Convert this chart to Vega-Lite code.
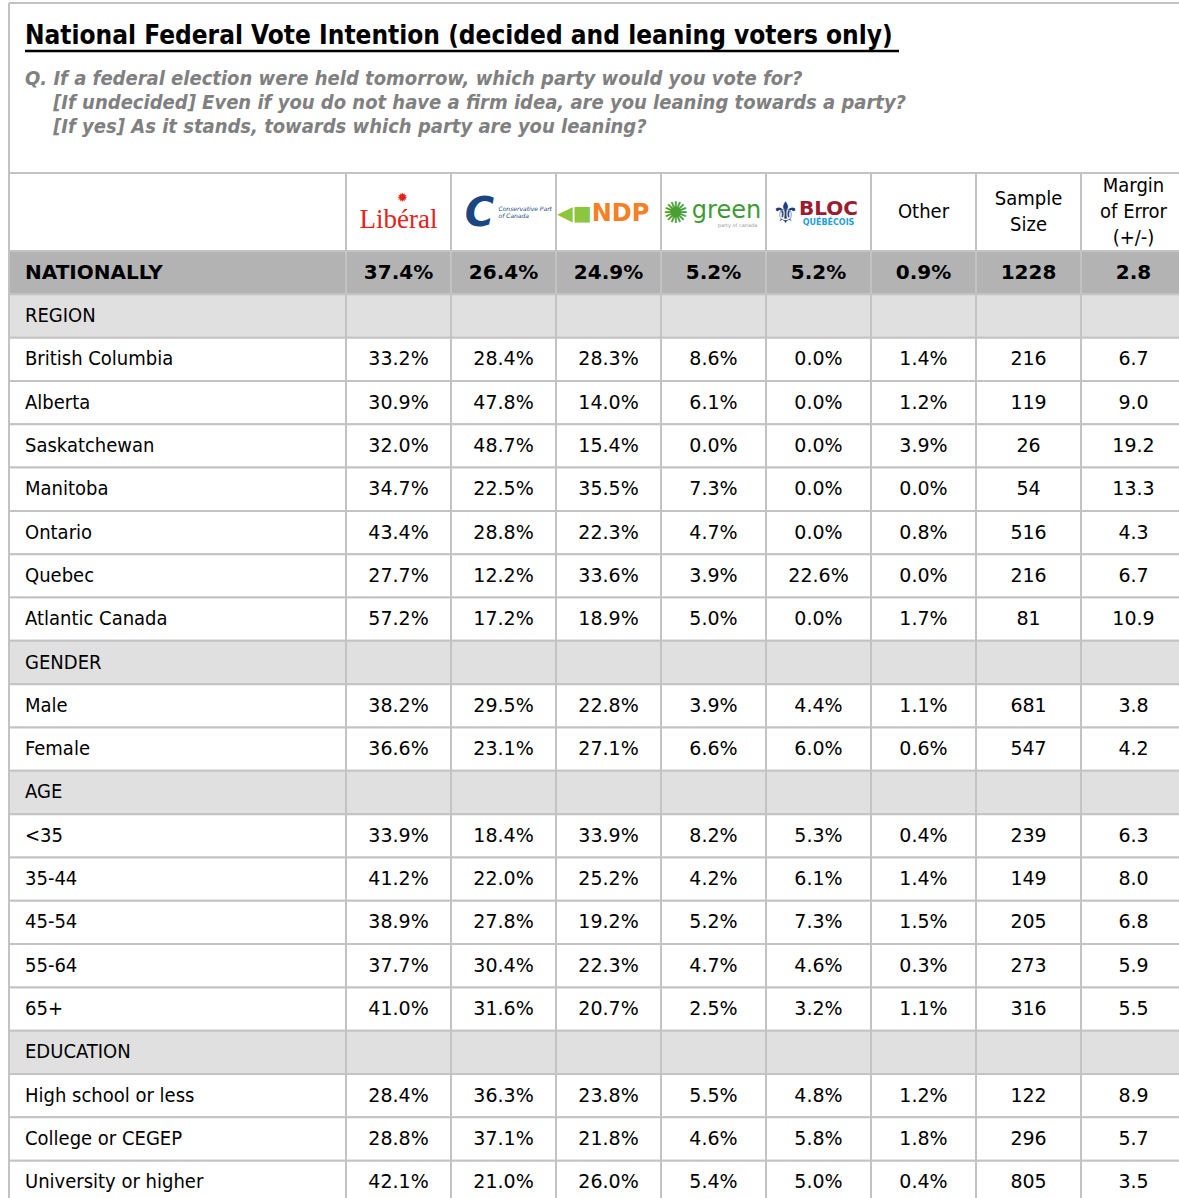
{
  "$schema": "https://vega.github.io/schema/vega-lite/v6.json",
  "background": "white",
  "padding": {"left": 8, "top": 2, "right": 0, "bottom": 0},
  "columns": 2,
  "spacing": 0,
  "bounds": "flush",
  "resolve": {"scale": {"x": "independent", "y": "independent", "fill": "independent"}},
  "config": {
    "view": {"stroke": null},
    "font": "DejaVu Sans Condensed",
    "text": {"font": "DejaVu Sans Condensed", "fontSize": 20, "color": "#000000"}
  },
  "datasets": {
    "table": [
      {"row": "NATIONALLY", "kind": "total", "Liberal": 0.374, "Conservative": 0.264, "NDP": 0.249, "Green": 0.052, "Bloc": 0.052, "Other": 0.009, "Sample": 1228, "MoE": 2.8},
      {"row": "REGION", "kind": "section"},
      {"row": "British Columbia", "kind": "row", "Liberal": 0.332, "Conservative": 0.284, "NDP": 0.283, "Green": 0.086, "Bloc": 0.0, "Other": 0.014, "Sample": 216, "MoE": 6.7},
      {"row": "Alberta", "kind": "row", "Liberal": 0.309, "Conservative": 0.478, "NDP": 0.140, "Green": 0.061, "Bloc": 0.0, "Other": 0.012, "Sample": 119, "MoE": 9.0},
      {"row": "Saskatchewan", "kind": "row", "Liberal": 0.320, "Conservative": 0.487, "NDP": 0.154, "Green": 0.0, "Bloc": 0.0, "Other": 0.039, "Sample": 26, "MoE": 19.2},
      {"row": "Manitoba", "kind": "row", "Liberal": 0.347, "Conservative": 0.225, "NDP": 0.355, "Green": 0.073, "Bloc": 0.0, "Other": 0.0, "Sample": 54, "MoE": 13.3},
      {"row": "Ontario", "kind": "row", "Liberal": 0.434, "Conservative": 0.288, "NDP": 0.223, "Green": 0.047, "Bloc": 0.0, "Other": 0.008, "Sample": 516, "MoE": 4.3},
      {"row": "Quebec", "kind": "row", "Liberal": 0.277, "Conservative": 0.122, "NDP": 0.336, "Green": 0.039, "Bloc": 0.226, "Other": 0.0, "Sample": 216, "MoE": 6.7},
      {"row": "Atlantic Canada", "kind": "row", "Liberal": 0.572, "Conservative": 0.172, "NDP": 0.189, "Green": 0.050, "Bloc": 0.0, "Other": 0.017, "Sample": 81, "MoE": 10.9},
      {"row": "GENDER", "kind": "section"},
      {"row": "Male", "kind": "row", "Liberal": 0.382, "Conservative": 0.295, "NDP": 0.228, "Green": 0.039, "Bloc": 0.044, "Other": 0.011, "Sample": 681, "MoE": 3.8},
      {"row": "Female", "kind": "row", "Liberal": 0.366, "Conservative": 0.231, "NDP": 0.271, "Green": 0.066, "Bloc": 0.060, "Other": 0.006, "Sample": 547, "MoE": 4.2},
      {"row": "AGE", "kind": "section"},
      {"row": "<35", "kind": "row", "Liberal": 0.339, "Conservative": 0.184, "NDP": 0.339, "Green": 0.082, "Bloc": 0.053, "Other": 0.004, "Sample": 239, "MoE": 6.3},
      {"row": "35-44", "kind": "row", "Liberal": 0.412, "Conservative": 0.220, "NDP": 0.252, "Green": 0.042, "Bloc": 0.061, "Other": 0.014, "Sample": 149, "MoE": 8.0},
      {"row": "45-54", "kind": "row", "Liberal": 0.389, "Conservative": 0.278, "NDP": 0.192, "Green": 0.052, "Bloc": 0.073, "Other": 0.015, "Sample": 205, "MoE": 6.8},
      {"row": "55-64", "kind": "row", "Liberal": 0.377, "Conservative": 0.304, "NDP": 0.223, "Green": 0.047, "Bloc": 0.046, "Other": 0.003, "Sample": 273, "MoE": 5.9},
      {"row": "65+", "kind": "row", "Liberal": 0.410, "Conservative": 0.316, "NDP": 0.207, "Green": 0.025, "Bloc": 0.032, "Other": 0.011, "Sample": 316, "MoE": 5.5},
      {"row": "EDUCATION", "kind": "section"},
      {"row": "High school or less", "kind": "row", "Liberal": 0.284, "Conservative": 0.363, "NDP": 0.238, "Green": 0.055, "Bloc": 0.048, "Other": 0.012, "Sample": 122, "MoE": 8.9},
      {"row": "College or CEGEP", "kind": "row", "Liberal": 0.288, "Conservative": 0.371, "NDP": 0.218, "Green": 0.046, "Bloc": 0.058, "Other": 0.018, "Sample": 296, "MoE": 5.7},
      {"row": "University or higher", "kind": "row", "Liberal": 0.421, "Conservative": 0.210, "NDP": 0.260, "Green": 0.054, "Bloc": 0.050, "Other": 0.004, "Sample": 805, "MoE": 3.5}
    ],
    "head": [
      {"col": "Liberal", "head": ""},
      {"col": "Conservative", "head": ""},
      {"col": "NDP", "head": ""},
      {"col": "Green", "head": ""},
      {"col": "Bloc", "head": ""},
      {"col": "Other", "head": "Other"},
      {"col": "Sample", "head": "Sample\nSize"},
      {"col": "MoE", "head": "Margin\nof Error\n(+/-)"}
    ]
  },
  "concat": [
    {
      "width": 337,
      "height": 170,
      "title": {
        "text": "National Federal Vote Intention (decided and leaning voters only)",
        "subtitle": [
          "Q. If a federal election were held tomorrow, which party would you vote for?",
          "\u2800\u2800[If undecided] Even if you do not have a firm idea, are you leaning towards a party?",
          "\u2800\u2800[If yes] As it stands, towards which party are you leaning?"
        ],
        "anchor": "start",
        "frame": "group",
        "orient": "top",
        "offset": -135,
        "dx": 16,
        "font": "DejaVu Sans Condensed",
        "fontSize": 26,
        "fontWeight": "bold",
        "color": "#000000",
        "subtitleFont": "DejaVu Sans Condensed",
        "subtitleFontSize": 20,
        "subtitleFontStyle": "italic",
        "subtitleFontWeight": "bold",
        "subtitleColor": "#808080",
        "subtitleLineHeight": 24,
        "subtitlePadding": 20
      },
      "data": {"values": [{}]},
      "layer": [
        {"mark": {"type": "rule", "color": "#c3c3c3", "strokeWidth": 2}, "encoding": {"x": {"value": 0}, "x2": {"value": 337}, "y": {"value": 0}}},
        {"mark": {"type": "rule", "color": "#c3c3c3", "strokeWidth": 2}, "encoding": {"x": {"value": 0}, "y": {"value": 0}, "y2": {"value": 170}}},
        {"mark": {"type": "rule", "color": "#000000", "strokeWidth": 2.5}, "encoding": {"x": {"value": 16}, "x2": {"value": 890}, "y": {"value": 48}}}
      ]
    },
    {
      "width": 840,
      "height": 170,
      "data": {"values": [{}]},
      "mark": {"type": "rule", "color": "#c3c3c3", "strokeWidth": 2},
      "encoding": {"x": {"value": 0}, "x2": {"value": 840}, "y": {"value": 0}}
    },
    {
      "width": 337,
      "height": 78,
      "data": {"values": [{"cell": "label"}]},
      "mark": {"type": "rect", "fill": "#ffffff", "stroke": "#c3c3c3", "strokeWidth": 2},
      "encoding": {
        "x": {"field": "cell", "type": "nominal", "axis": null, "scale": {"paddingInner": 0, "paddingOuter": 0}},
        "y": {"field": "cell", "type": "nominal", "axis": null, "scale": {"paddingInner": 0, "paddingOuter": 0}}
      }
    },
    {
      "width": 840,
      "height": 78,
      "data": {"name": "head"},
      "encoding": {
        "x": {"field": "col", "type": "nominal", "axis": null, "scale": {"domain": ["Liberal", "Conservative", "NDP", "Green", "Bloc", "Other", "Sample", "MoE"], "paddingInner": 0, "paddingOuter": 0}},
        "y": {"datum": "h", "type": "nominal", "axis": null, "scale": {"paddingInner": 0, "paddingOuter": 0}}
      },
      "layer": [
        {"mark": {"type": "rect", "fill": "#ffffff", "stroke": "#c3c3c3", "strokeWidth": 2}},
        {
          "transform": [{"filter": "datum.head != ''"}],
          "mark": {"type": "text", "lineBreak": "\n", "lineHeight": 26, "fontSize": 20, "dy": {"expr": "-13 * (length(split(datum.head, '\\n')) - 1)"}},
          "encoding": {"text": {"field": "head"}}
        },
        {
          "transform": [{"filter": "datum.col == 'Liberal'"}],
          "mark": {"type": "text", "font": "Liberation Serif", "fontSize": 27, "color": "#e2231a", "dy": 8},
          "encoding": {"text": {"value": "Libéral"}}
        },
        {
          "transform": [{"filter": "datum.col == 'Liberal'"}],
          "mark": {"type": "text", "font": "DejaVu Sans", "fontSize": 13, "color": "#e2231a", "dx": 4, "dy": -14},
          "encoding": {"text": {"value": "✹"}}
        },
        {
          "transform": [{"filter": "datum.col == 'Conservative'"}],
          "mark": {"type": "text", "font": "DejaVu Sans", "fontSize": 40, "fontWeight": "bold", "fontStyle": "italic", "color": "#1a4782", "dx": -24, "dy": 2},
          "encoding": {"text": {"value": "C"}}
        },
        {
          "transform": [{"filter": "datum.col == 'Conservative'"}],
          "mark": {"type": "text", "font": "DejaVu Sans", "fontSize": 6, "fontStyle": "italic", "color": "#1a4782", "align": "left", "dx": -5, "dy": -3},
          "encoding": {"text": {"value": "Conservative Part"}}
        },
        {
          "transform": [{"filter": "datum.col == 'Conservative'"}],
          "mark": {"type": "text", "font": "DejaVu Sans", "fontSize": 6, "fontStyle": "italic", "color": "#1a4782", "align": "left", "dx": -5, "dy": 4},
          "encoding": {"text": {"value": "of Canada"}}
        },
        {
          "transform": [{"filter": "datum.col == 'NDP'"}],
          "mark": {"type": "text", "font": "DejaVu Sans", "fontSize": 20, "color": "#8cc63e", "dx": -34, "dy": 2},
          "encoding": {"text": {"value": "◀■"}}
        },
        {
          "transform": [{"filter": "datum.col == 'NDP'"}],
          "mark": {"type": "text", "font": "DejaVu Sans", "fontSize": 24, "fontWeight": "bold", "color": "#f58025", "dx": 12, "dy": 2},
          "encoding": {"text": {"value": "NDP"}}
        },
        {
          "transform": [{"filter": "datum.col == 'Green'"}],
          "mark": {"type": "text", "font": "DejaVu Sans", "fontSize": 30, "color": "#4a9f32", "dx": -38, "dy": 2},
          "encoding": {"text": {"value": "✺"}}
        },
        {
          "transform": [{"filter": "datum.col == 'Green'"}],
          "mark": {"type": "text", "font": "DejaVu Sans", "fontSize": 24, "color": "#3d9b35", "dx": 13, "dy": -1},
          "encoding": {"text": {"value": "green"}}
        },
        {
          "transform": [{"filter": "datum.col == 'Green'"}],
          "mark": {"type": "text", "font": "DejaVu Sans", "fontSize": 5, "color": "#999999", "dx": 24, "dy": 13},
          "encoding": {"text": {"value": "party of canada"}}
        },
        {
          "transform": [{"filter": "datum.col == 'Bloc'"}],
          "mark": {"type": "text", "font": "DejaVu Sans", "fontSize": 30, "color": "#1d3c78", "dx": -33, "dy": 2},
          "encoding": {"text": {"value": "⚜"}}
        },
        {
          "transform": [{"filter": "datum.col == 'Bloc'"}],
          "mark": {"type": "text", "font": "DejaVu Sans", "fontSize": 20, "fontWeight": "bold", "color": "#9b1c31", "dx": 10, "dy": -3},
          "encoding": {"text": {"value": "BLOC"}}
        },
        {
          "transform": [{"filter": "datum.col == 'Bloc'"}],
          "mark": {"type": "text", "font": "DejaVu Sans", "fontSize": 8, "fontWeight": "bold", "color": "#22a0dc", "dx": 10, "dy": 11},
          "encoding": {"text": {"value": "QUÉBÉCOIS"}}
        }
      ]
    },
    {
      "width": 337,
      "height": 953,
      "data": {"name": "table"},
      "encoding": {
        "y": {"field": "row", "type": "nominal", "sort": null, "axis": null, "scale": {"paddingInner": 0, "paddingOuter": 0}},
        "x": {"datum": "label", "type": "nominal", "axis": null, "scale": {"paddingInner": 0, "paddingOuter": 0}}
      },
      "layer": [
        {
          "mark": {"type": "rect", "stroke": "#c3c3c3", "strokeWidth": 2},
          "encoding": {"fill": {"field": "kind", "type": "nominal", "legend": null, "scale": {"domain": ["total", "section", "row"], "range": ["#b3b3b3", "#e0e0e0", "#ffffff"]}}}
        },
        {
          "mark": {"type": "text", "align": "left", "dx": 16, "fontSize": 20, "font": {"expr": "datum.kind == 'total' ? 'DejaVu Sans' : 'DejaVu Sans Condensed'"}, "fontWeight": {"expr": "datum.kind == 'total' ? 'bold' : 'normal'"}},
          "encoding": {
            "x": {"datum": "label", "type": "nominal", "bandPosition": 0},
            "text": {"field": "row"}
          }
        }
      ]
    },
    {
      "width": 840,
      "height": 953,
      "data": {"name": "table"},
      "transform": [{"fold": ["Liberal", "Conservative", "NDP", "Green", "Bloc", "Other", "Sample", "MoE"], "as": ["col", "value"]}],
      "encoding": {
        "y": {"field": "row", "type": "nominal", "sort": null, "axis": null, "scale": {"paddingInner": 0, "paddingOuter": 0}},
        "x": {"field": "col", "type": "nominal", "axis": null, "scale": {"domain": ["Liberal", "Conservative", "NDP", "Green", "Bloc", "Other", "Sample", "MoE"], "paddingInner": 0, "paddingOuter": 0}}
      },
      "layer": [
        {
          "mark": {"type": "rect", "stroke": "#c3c3c3", "strokeWidth": 2},
          "encoding": {"fill": {"field": "kind", "type": "nominal", "legend": null, "scale": {"domain": ["total", "section", "row"], "range": ["#b3b3b3", "#e0e0e0", "#ffffff"]}}}
        },
        {
          "transform": [{"filter": "indexof(['Liberal','Conservative','NDP','Green','Bloc','Other'], datum.col) >= 0 && isValid(datum.value)"}],
          "mark": {"type": "text", "font": "DejaVu Sans", "fontSize": {"expr": "datum.kind == 'total' ? 20 : 19"}, "fontWeight": {"expr": "datum.kind == 'total' ? 'bold' : 'normal'"}},
          "encoding": {"text": {"field": "value", "type": "quantitative", "format": ".1%"}}
        },
        {
          "transform": [{"filter": "datum.col == 'Sample' && isValid(datum.value)"}],
          "mark": {"type": "text", "font": "DejaVu Sans", "fontSize": {"expr": "datum.kind == 'total' ? 20 : 19"}, "fontWeight": {"expr": "datum.kind == 'total' ? 'bold' : 'normal'"}},
          "encoding": {"text": {"field": "value", "type": "quantitative", "format": "d"}}
        },
        {
          "transform": [{"filter": "datum.col == 'MoE' && isValid(datum.value)"}],
          "mark": {"type": "text", "font": "DejaVu Sans", "fontSize": {"expr": "datum.kind == 'total' ? 20 : 19"}, "fontWeight": {"expr": "datum.kind == 'total' ? 'bold' : 'normal'"}},
          "encoding": {"text": {"field": "value", "type": "quantitative", "format": ".1f"}}
        }
      ]
    }
  ]
}
